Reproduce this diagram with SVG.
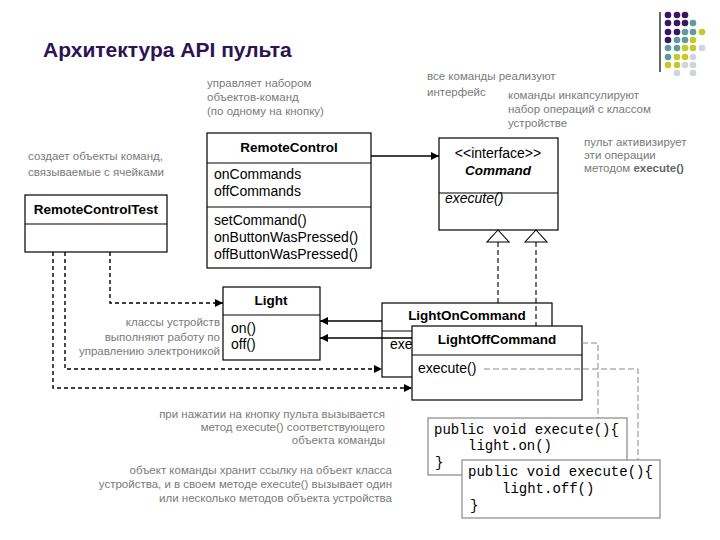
<svg xmlns="http://www.w3.org/2000/svg" width="720" height="540" viewBox="0 0 720 540">
<defs>
<style>
.note{font-family:"Liberation Sans",Arial,sans-serif;font-size:11.5px;fill:#7a7a7a}
.t{font-family:"Liberation Sans",Arial,sans-serif;font-size:14px;fill:#000}
.tb{font-family:"Liberation Sans",Arial,sans-serif;font-size:13.5px;font-weight:bold;fill:#000}
.code{font-family:"Liberation Mono","Courier New",monospace;font-size:14px;fill:#000}
.box{fill:#fff;stroke:#000;stroke-width:1.2}
.cbox{fill:#fff;stroke:#888;stroke-width:1.2}
.sol{fill:none;stroke:#000;stroke-width:1.4}
.dash{fill:none;stroke:#000;stroke-width:1.4;stroke-dasharray:4 3}
.real{fill:none;stroke:#000;stroke-width:1.1;stroke-dasharray:5 3}
.gdash{fill:none;stroke:#888;stroke-width:1;stroke-dasharray:6 3}
.p{fill:#3a1660}.g{fill:#5f9a9c}.y{fill:#c9c82a}.l{fill:#cfd3dc}
</style>
<marker id="arr" viewBox="0 0 10 10" refX="10" refY="5" markerWidth="8" markerHeight="8" markerUnits="userSpaceOnUse" orient="auto"><path d="M0,0 L10,5 L0,10 Z" fill="#000"/></marker>
</defs>
<rect width="720" height="540" fill="#fff"/>

<g id="decor">
<line x1="660" y1="12" x2="660" y2="72" stroke="#000" stroke-width="1.2"/>
<circle class="p" cx="668" cy="15" r="3.3"/><circle class="p" cx="677" cy="15" r="3.3"/><circle class="p" cx="685" cy="15" r="3.3"/>
<circle class="p" cx="668" cy="23" r="3.3"/><circle class="p" cx="677" cy="23" r="3.3"/><circle class="p" cx="685" cy="23" r="3.3"/><circle class="g" cx="693" cy="23" r="3.3"/>
<circle class="p" cx="668" cy="32" r="3.3"/><circle class="p" cx="677" cy="32" r="3.3"/><circle class="g" cx="685" cy="32" r="3.3"/><circle class="g" cx="693" cy="32" r="3.3"/><circle class="y" cx="702" cy="32" r="3.3"/>
<circle class="p" cx="668" cy="40" r="3.3"/><circle class="g" cx="677" cy="40" r="3.3"/><circle class="g" cx="685" cy="40" r="3.3"/><circle class="y" cx="693" cy="40" r="3.3"/>
<circle class="g" cx="668" cy="48" r="3.3"/><circle class="g" cx="677" cy="48" r="3.3"/><circle class="y" cx="685" cy="48" r="3.3"/><circle class="y" cx="693" cy="48" r="3.3"/><circle class="l" cx="702" cy="48" r="3.3"/>
<circle class="g" cx="668" cy="57" r="3.3"/><circle class="y" cx="677" cy="57" r="3.3"/><circle class="y" cx="685" cy="57" r="3.3"/><circle class="l" cx="693" cy="57" r="3.3"/>
<circle class="y" cx="668" cy="65" r="3.3"/><circle class="y" cx="677" cy="65" r="3.3"/><circle class="l" cx="685" cy="65" r="3.3"/><circle class="l" cx="693" cy="65" r="3.3"/>
<circle class="l" cx="677" cy="73" r="3.3"/><circle class="l" cx="693" cy="73" r="3.3"/>
</g>

<text x="43" y="57" font-family="'Liberation Sans',Arial,sans-serif" font-size="21" font-weight="bold" fill="#2e1255">Архитектура API пульта</text>

<g id="annotations">
<text class="note" x="207" y="87">управляет набором</text>
<text class="note" x="207" y="101">объектов-команд</text>
<text class="note" x="207" y="115">(по одному на кнопку)</text>
<text class="note" x="427" y="80">все команды реализуют</text>
<text class="note" x="427" y="96">интерфейс</text>
<text class="note" x="508" y="99">команды инкапсулируют</text>
<text class="note" x="508" y="113">набор операций с классом</text>
<text class="note" x="508" y="127">устройстве</text>
<text class="note" x="584" y="146">пульт активизирует</text>
<text class="note" x="584" y="159">эти операции</text>
<text class="note" x="584" y="172">методом <tspan font-weight="bold" fill="#666">execute()</tspan></text>
<text class="note" x="28" y="160">создает объекты команд,</text>
<text class="note" x="28" y="176">связываемые с ячейками</text>
<text class="note" x="220" y="326" text-anchor="end">классы устройств</text>
<text class="note" x="220" y="341" text-anchor="end">выполняют работу по</text>
<text class="note" x="220" y="355" text-anchor="end">управлению электроникой</text>
<text class="note" x="385" y="418" text-anchor="end">при нажатии на кнопку пульта вызывается</text>
<text class="note" x="385" y="431" text-anchor="end">метод execute() соответствующего</text>
<text class="note" x="385" y="444" text-anchor="end">объекта команды</text>
<text class="note" x="392" y="474" text-anchor="end">объект команды хранит ссылку на объект класса</text>
<text class="note" x="392" y="488" text-anchor="end">устройства, и в своем методе execute() вызывает один</text>
<text class="note" x="392" y="502" text-anchor="end">или несколько методов объекта устройства</text>
</g>

<g id="RemoteControlTest">
<rect class="box" x="25" y="195" width="142" height="57"/>
<line x1="25" y1="224" x2="167" y2="224" stroke="#000" stroke-width="1.2"/>
<text class="tb" x="96" y="214" text-anchor="middle">RemoteControlTest</text>
</g>

<g id="RemoteControl">
<rect class="box" x="207" y="133" width="164" height="135"/>
<line x1="207" y1="163" x2="371" y2="163" stroke="#000" stroke-width="1.2"/>
<line x1="207" y1="207" x2="371" y2="207" stroke="#000" stroke-width="1.2"/>
<text class="tb" x="289" y="152" text-anchor="middle">RemoteControl</text>
<text class="t" x="214" y="179">onCommands</text>
<text class="t" x="214" y="196">offCommands</text>
<text class="t" x="214" y="225">setCommand()</text>
<text class="t" x="214" y="242">onButtonWasPressed()</text>
<text class="t" x="214" y="259">offButtonWasPressed()</text>
</g>

<g id="Command">
<rect class="box" x="439" y="138" width="119" height="92"/>
<line x1="439" y1="193" x2="558" y2="193" stroke="#000" stroke-width="1.2"/>
<text class="t" x="498" y="158" text-anchor="middle" font-size="13.5">&lt;&lt;interface&gt;&gt;</text>
<text class="tb" x="498" y="175" text-anchor="middle" font-style="italic">Command</text>
<text class="t" x="445" y="203" font-style="italic">execute()</text>
</g>

<g id="Light">
<rect class="box" x="223" y="287" width="97" height="73"/>
<line x1="223" y1="315" x2="320" y2="315" stroke="#000" stroke-width="1.2"/>
<text class="tb" x="271" y="305" text-anchor="middle">Light</text>
<text class="t" x="231" y="333">on()</text>
<text class="t" x="231" y="349">off()</text>
</g>

<g id="LightOnCommand">
<rect class="box" x="382" y="303" width="170" height="74"/>
<line x1="382" y1="331" x2="552" y2="331" stroke="#000" stroke-width="1.2"/>
<text class="tb" x="467" y="320" text-anchor="middle">LightOnCommand</text>
<text class="t" x="390" y="349">exe</text>
</g>

<g id="LightOffCommand">
<rect class="box" x="412" y="326" width="170" height="74"/>
<line x1="412" y1="355" x2="582" y2="355" stroke="#000" stroke-width="1.2"/>
<text class="tb" x="497" y="344" text-anchor="middle">LightOffCommand</text>
<text class="t" x="418" y="373">execute()</text>
</g>

<g id="codeOn">
<rect class="cbox" x="428" y="418" width="199" height="57"/>
<text class="code" x="434" y="434">public void execute(){</text>
<text class="code" x="468" y="450">light.on()</text>
<text class="code" x="435" y="467">}</text>
</g>

<g id="codeOff">
<rect class="cbox" x="462" y="460" width="198" height="58"/>
<text class="code" x="468" y="476">public void execute(){</text>
<text class="code" x="502" y="493">light.off()</text>
<text class="code" x="470" y="510">}</text>
</g>

<g id="connectors">
<line class="sol" x1="371" y1="156" x2="439" y2="156" marker-end="url(#arr)"/>
<line class="real" x1="498" y1="242" x2="498" y2="303"/>
<line class="real" x1="536" y1="242" x2="536" y2="326"/>
<polygon points="498,230 487,242 509,242" fill="#fff" stroke="#000" stroke-width="1.1"/>
<polygon points="536,230 525,242 547,242" fill="#fff" stroke="#000" stroke-width="1.1"/>
<line class="sol" x1="382" y1="321" x2="320" y2="321" marker-end="url(#arr)"/>
<line class="sol" x1="412" y1="338" x2="320" y2="338" marker-end="url(#arr)"/>
<polyline class="dash" points="110,252 110,303 223,303" marker-end="url(#arr)"/>
<polyline class="dash" points="65,252 65,369 382,369" marker-end="url(#arr)"/>
<polyline class="dash" points="53,252 53,388 412,388" marker-end="url(#arr)"/>
<polyline class="gdash" points="582,343 598,343 598,418"/>
<polyline class="gdash" points="484,369 638,369 638,460"/>
</g>
</svg>
